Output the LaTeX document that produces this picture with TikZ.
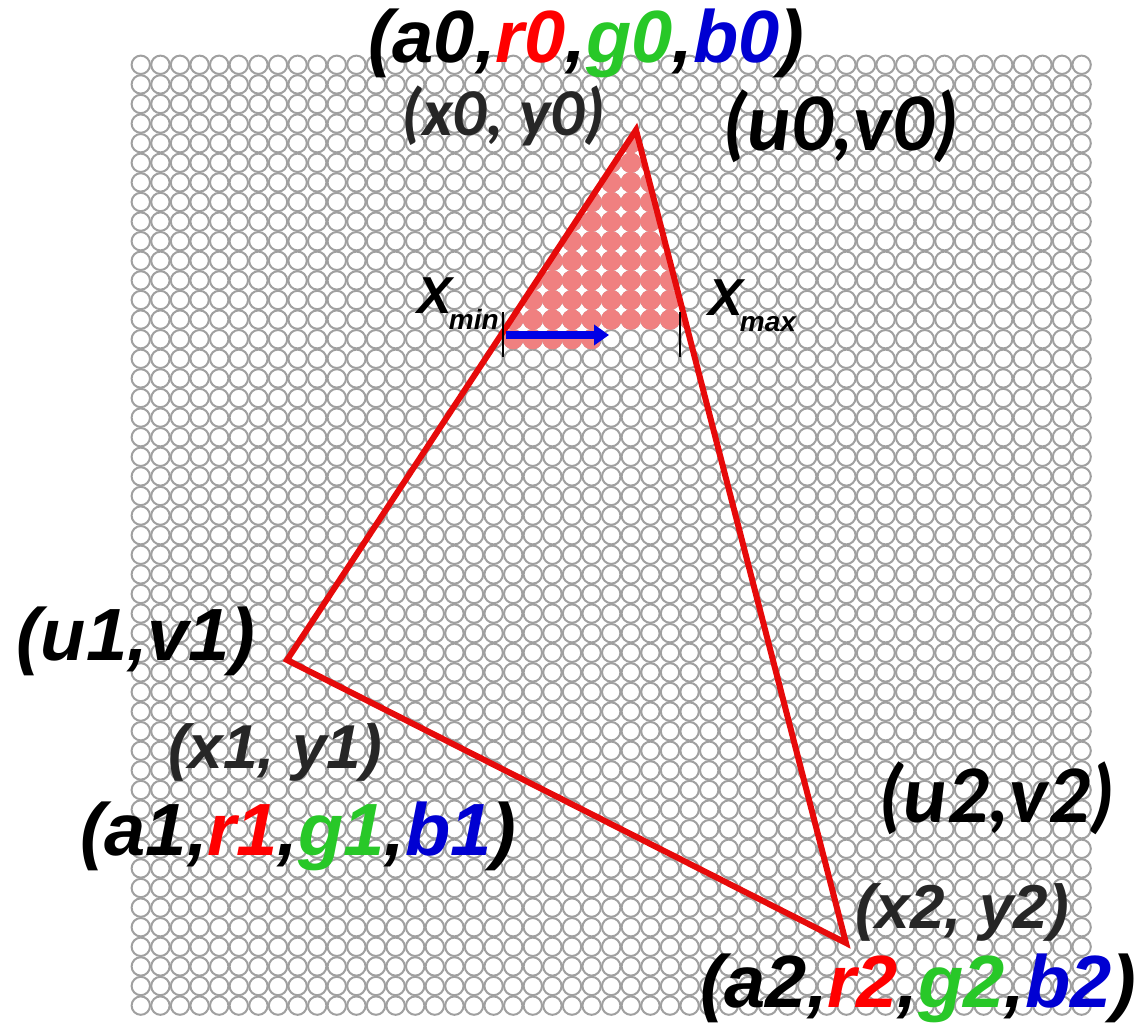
\documentclass[tikz,border=0pt]{standalone}
\usepackage{fontspec}
\setmainfont{Liberation Sans}
\newfontfamily\calib{Carlito}
\usetikzlibrary{arrows.meta}

\definecolor{pxgray}{RGB}{160,160,160}
\definecolor{pxpink}{RGB}{240,128,128}
\definecolor{edgered}{RGB}{230,10,10}
\definecolor{chred}{RGB}{255,0,0}
\definecolor{chgreen}{RGB}{40,200,40}
\definecolor{chblue}{RGB}{0,0,210}
\definecolor{scanblue}{RGB}{0,0,230}

\tikzset{
  pixel/.style={draw=pxgray, line width=2pt, fill=white},
  hit/.style={draw=pxpink, line width=2pt, fill=pxpink},
  big/.style={font=\fontsize{74}{80}\selectfont\bfseries\itshape, inner sep=0pt, anchor=base west},
  bigcal/.style={big, font=\fontsize{82}{86}\selectfont\calib\bfseries\itshape},
  small/.style={font=\fontsize{62}{66}\selectfont\bfseries\itshape, text=black!85, inner sep=0pt, anchor=base west},
  smallcal/.style={small, font=\fontsize{67}{70}\selectfont\calib\bfseries\itshape},
  bound/.style={font=\bfseries\itshape, inner sep=0pt, anchor=base west},
}
\newcommand{\colorquad}[1]{(a#1,\textcolor{chred}{r#1},\textcolor{chgreen}{g#1},\textcolor{chblue}{b#1})}
\newcommand{\boundlbl}[1]{{\fontsize{52}{56}\selectfont X}\hspace{-3pt}\raisebox{-16pt}{\fontsize{28}{30}\selectfont #1}}

\begin{document}
\begin{tikzpicture}[x=1pt, y=-1pt]
    \useasboundingbox (0,0) rectangle (1139,1025);
    % pixel grid
    \foreach \i in {0,...,48}
      \foreach \j in {0,...,48}
        \draw[pixel] ({140.8+19.6*\i},{64.8+19.6*\j}) circle (9.2pt);
    % vertices
    \coordinate (v0) at (636,130);
    \coordinate (v1) at (287,660);
    \coordinate (v2) at (846,943);
    % covered pixels
    \begin{scope}
      \clip (v0) -- (v1) -- (v2) -- cycle;
      \clip (0,0) rectangle (1139,329.4);
      \foreach \i in {17,...,30}
        \foreach \j in {0,...,13}
          \draw[hit] ({140.8+19.6*\i},{64.8+19.6*\j}) circle (9.2pt);
    \end{scope}
    \begin{scope}
      \clip (503,329.4) rectangle (600,349);
      \foreach \i in {18,...,23}
        \draw[hit] ({140.8+19.6*\i},339.2) circle (9.2pt);
    \end{scope}
    % triangle
    \draw[edgered, line width=6pt, line join=miter] (v0) -- (v1) -- (v2) -- cycle;
    % scanline
    \coordinate (tickLtop) at (503,312);
    \coordinate (tickLbot) at (503,357);
    \coordinate (tickRtop) at (680,312);
    \coordinate (tickRbot) at (680,357);
    \draw[line width=1.5pt] (tickLtop) -- (tickLbot);
    \draw[line width=1.5pt] (tickRtop) -- (tickRbot);
    \coordinate (scanstart) at (506,335);
    \coordinate (scanend) at (609,335);
    \draw[scanblue, line width=8pt, -{Triangle[length=15pt,width=20pt]}] (scanstart) -- (scanend);
    \node[bound] (xmin) at (417,313) {\boundlbl{min}};
    \node[bound] (xmax) at (708,315) {\boundlbl{max}};
    % labels
    \node[big] (lblA0) at (368,63) {\colorquad{0}};
    \node[bigcal] (lblU0) at (722,150) {(u0,v0)};
    \node[smallcal] (lblX0) at (401,135) {(x0, y0)};
    \node[big] (lblU1) at (16,660) {(u1,v1)};
    \node[small] (lblX1) at (168,768) {(x1, y1)};
    \node[big] (lblA1) at (80,855) {\colorquad{1}};
    \node[bigcal] (lblU2) at (878,822) {(u2,v2)};
    \node[small] (lblX2) at (855,928) {(x2, y2)};
    \node[big] (lblA2) at (700,1007) {\colorquad{2}};
\end{tikzpicture}
\end{document}
